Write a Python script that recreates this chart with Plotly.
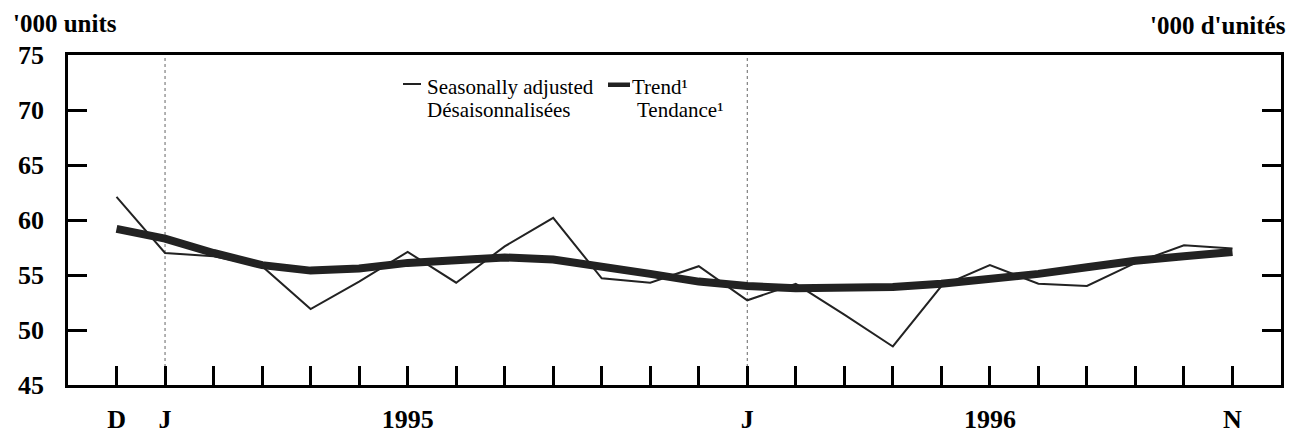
import plotly.graph_objects as go

# ---- data (Dec 1994 .. Nov 1996), '000 units ----
months = ["Dec 1994", "Jan 1995", "Feb 1995", "Mar 1995", "Apr 1995", "May 1995",
          "Jun 1995", "Jul 1995", "Aug 1995", "Sep 1995", "Oct 1995", "Nov 1995",
          "Dec 1995", "Jan 1996", "Feb 1996", "Mar 1996", "Apr 1996", "May 1996",
          "Jun 1996", "Jul 1996", "Aug 1996", "Sep 1996", "Oct 1996", "Nov 1996"]
tick_labels = ["D", "J", "", "", "", "", "1995", "", "", "", "", "",
               "", "J", "", "", "", "", "1996", "", "", "", "", "N"]
seasonally_adjusted = [62.1, 57.0, 56.7, 55.8, 51.9, 54.4, 57.1, 54.3, 57.6, 60.2,
                       54.7, 54.3, 55.8, 52.7, 54.2, 51.4, 48.5, 54.0, 55.9, 54.2,
                       54.0, 56.1, 57.7, 57.4]
trend = [59.2, 58.3, 57.0, 55.9, 55.4, 55.6, 56.1, 56.4, 56.6, 56.4,
         55.8, 55.1, 54.4, 54.0, 53.8, 53.8, 53.9, 54.2, 54.6, 55.1,
         55.7, 56.3, 56.7, 57.1]
y_ticks = [45, 50, 55, 60, 65, 70, 75]

x = list(range(len(months)))
jan_idx = [i for i, m in enumerate(months) if m.startswith("Jan")]

INK = "#222222"
SERIF = "Liberation Serif"

fig = go.Figure()
fig.add_trace(go.Scatter(x=x, y=seasonally_adjusted, mode="lines",
                         name="Seasonally adjusted / Désaisonnalisées",
                         line=dict(color=INK, width=2), text=months,
                         hovertemplate="%{text}: %{y}<extra></extra>"))
fig.add_trace(go.Scatter(x=x, y=trend, mode="lines", name="Trend¹ / Tendance¹",
                         line=dict(color=INK, width=8), text=months,
                         hovertemplate="%{text}: %{y}<extra></extra>"))
# empty trace so the label-only y axis is drawn
fig.add_trace(go.Scatter(x=[], y=[], yaxis="y2", mode="lines", showlegend=False,
                         hoverinfo="skip"))

for j in jan_idx:
    fig.add_vline(x=j, line=dict(color="#666666", width=1, dash="dot"), layer="below")

# page geometry in pixels (paper spans 0..R horizontally, plot area L..R)
L, R, T, B = 68, 1281, 55, 385
W, H = 1299, 434
YLAB_RIGHT = 44  # right edge of the y tick labels


def px(xp):
    return xp / R


def py(yp):
    return (B - yp) / (B - T)


annotations = [
    dict(text="<b>'000 units</b>", x=px(11), y=py(23), xanchor="left", yanchor="middle",
         font=dict(size=25)),
    dict(text="<b>'000 d'unités</b>", x=px(1288), y=py(25), xanchor="right", yanchor="middle",
         font=dict(size=25)),
    dict(text="Seasonally adjusted", x=px(425), y=py(87), xanchor="left", yanchor="middle",
         font=dict(size=21)),
    dict(text="Désaisonnalisées", x=px(425), y=py(110), xanchor="left", yanchor="middle",
         font=dict(size=21)),
    dict(text="Trend¹", x=px(630), y=py(87), xanchor="left", yanchor="middle",
         font=dict(size=21)),
    dict(text="Tendance¹", x=px(635), y=py(110), xanchor="left", yanchor="middle",
         font=dict(size=21)),
]
for a in annotations:
    a.update(xref="paper", yref="paper", showarrow=False)
    a["font"].update(family=SERIF, color="black")

shapes = [
    dict(type="line", xref="paper", yref="paper", x0=px(403), x1=px(421), y0=py(84), y1=py(84),
         line=dict(color=INK, width=2)),
    dict(type="rect", xref="paper", yref="paper", x0=px(608), x1=px(630), y0=py(82.5), y1=py(87),
         line=dict(width=0), fillcolor=INK),
]
for s in shapes:
    fig.add_shape(**s)

tickfont = dict(family=SERIF, size=26, color="black", weight="bold")

fig.update_layout(
    width=W, height=H,
    margin=dict(l=0, r=W - R, t=T, b=H - B, pad=0, autoexpand=False),
    paper_bgcolor="white", plot_bgcolor="white",
    showlegend=False,
    annotations=annotations,
    font=dict(family=SERIF, color="black"),
    xaxis=dict(domain=[L / R, 1], range=[-1, 24], tickvals=x, ticktext=tick_labels,
               automargin=False,
               ticks="inside", ticklen=19, tickwidth=3, tickcolor="black",
               showline=True, linewidth=3, linecolor="black", mirror=True,
               showgrid=False, zeroline=False,
               tickfont=tickfont, ticklabelstandoff=9),
    yaxis=dict(range=[45, 75], tickvals=y_ticks, automargin=False, showticklabels=False,
               ticks="inside", ticklen=19, tickwidth=3, tickcolor="black",
               showline=True, linewidth=3, linecolor="black", mirror="ticks",
               showgrid=False, zeroline=False),
    yaxis2=dict(overlaying="y", matches="y", anchor="free", position=px(YLAB_RIGHT),
                side="left", range=[45, 75], tickvals=y_ticks, automargin=False,
                ticks="", showline=False, showgrid=False, zeroline=False,
                tickfont=tickfont),
)

fig.write_html("out.html", config={"displayModeBar": False},
               post_script="document.body.style.margin='0px';document.body.style.overflow='hidden';")
